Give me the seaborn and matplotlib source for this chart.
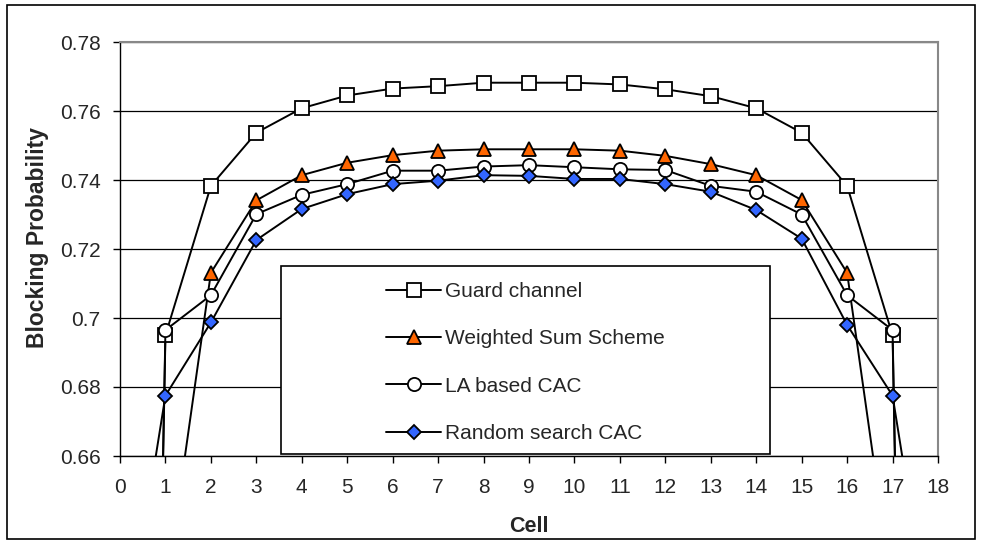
import matplotlib
matplotlib.use("Agg")
import matplotlib.pyplot as plt
import seaborn as sns
import pandas as pd
import numpy as np
from matplotlib.patches import Rectangle
from matplotlib.ticker import FuncFormatter, MultipleLocator

cells = list(range(0, 19))
guard = [0.0, 0.6950, 0.7383, 0.7537, 0.7608, 0.7645, 0.7665, 0.7672, 0.7682, 0.7682,
         0.7682, 0.7677, 0.7663, 0.7643, 0.7608, 0.7537, 0.7383, 0.6950, 0.0]
weighted = [0.0, 0.620, 0.7131, 0.7341, 0.7414, 0.7450, 0.7472, 0.7485, 0.7489, 0.7489,
            0.7489, 0.7485, 0.7470, 0.7446, 0.7414, 0.7342, 0.7131, 0.620, 0.0]
la_cac = [0.0, 0.6965, 0.7066, 0.7301, 0.7357, 0.7388, 0.7427, 0.7427, 0.7439, 0.7443,
          0.7437, 0.7431, 0.7429, 0.7383, 0.7366, 0.7300, 0.7066, 0.6965, 0.0]
random_cac = [0.595, 0.6775, 0.6987, 0.7226, 0.7316, 0.7359, 0.7388, 0.7398, 0.7414, 0.7412,
              0.7403, 0.7403, 0.7388, 0.7366, 0.7313, 0.7230, 0.6980, 0.6775, 0.595]
labels = ["Guard channel", "Weighted Sum Scheme", "LA based CAC", "Random search CAC"]
y_ticks = [0.66, 0.68, 0.70, 0.72, 0.74, 0.76, 0.78]

sns.set_theme(style="white")
plt.rcParams['font.family'] = ['Liberation Sans', 'DejaVu Sans']

W, H = 982, 544
fig = plt.figure(figsize=(W / 100, H / 100), dpi=100)
ax = fig.add_axes([120 / W, (H - 456) / H, (938 - 120) / W, (456 - 42) / H])

styles = [
    dict(marker='s', mfc='white', ms=9.5),
    dict(marker='^', mfc='#FF6600', ms=9.5),
    dict(marker='o', mfc='white', ms=9.5),
    dict(marker='D', mfc='#3366FF', ms=7.5),
]
series = [guard, weighted, la_cac, random_cac]
for vals, lab, st in zip(series, labels, styles):
    df = pd.DataFrame({"Cell": cells, "BP": vals})
    sns.lineplot(data=df, x="Cell", y="BP", ax=ax, color='black', lw=1.4,
                 marker=st['marker'], markersize=st['ms'], markerfacecolor=st['mfc'],
                 markeredgecolor='black', markeredgewidth=1.3, label=lab, legend=False)

ax.set_xlim(0, 18)
ax.set_ylim(0.66, 0.78)
ax.xaxis.set_major_locator(MultipleLocator(1))
ax.set_yticks(y_ticks)
ax.yaxis.set_major_formatter(FuncFormatter(lambda v, p: f"{v:g}"))
ax.grid(axis='y', color='black', lw=0.9)
ax.grid(axis='x', visible=False)
ax.set_axisbelow(True)
for s in ['left', 'bottom']:
    ax.spines[s].set_color('black')
    ax.spines[s].set_linewidth(1.0)
for s in ['top', 'right']:
    ax.spines[s].set_color('#888888')
    ax.spines[s].set_linewidth(1.5)
ax.tick_params(axis='both', direction='out', length=5, width=1, color='black',
               labelsize=15, left=True, bottom=True)
ax.tick_params(axis='y', pad=9)
ax.tick_params(axis='x', pad=11)
ax.set_xlabel("Cell", fontsize=15.5, fontweight='bold')
ax.set_ylabel("Blocking Probability", fontsize=16.5, fontweight='bold')
ax.xaxis.set_label_coords(0.5, (456 - 516) / 414)
ax.yaxis.set_label_coords((49 - 120) / 818, (456 - 238) / 414)

# legend box
box = Rectangle(((281 - 120) / 818, (456 - 454) / 414), (770 - 281) / 818, (454 - 266) / 414,
                transform=ax.transAxes, facecolor='white', edgecolor='black', lw=1.2, zorder=4)
ax.add_patch(box)
handles, labs = ax.get_legend_handles_labels()
leg = ax.legend(handles, labs, loc='upper left', bbox_to_anchor=((386 - 120) / 818, (456 - 282) / 414),
                frameon=False, fontsize=15, borderpad=0, borderaxespad=0,
                handlelength=2.64, handletextpad=0.2, labelspacing=1.36)
leg.set_zorder(5)

# outer chart border
fig.add_artist(Rectangle((7 / W, 5 / H), (W - 14) / W, (H - 10) / H, transform=fig.transFigure,
                         fill=False, edgecolor='black', lw=1.2))

fig.savefig("out.png", dpi=100)
